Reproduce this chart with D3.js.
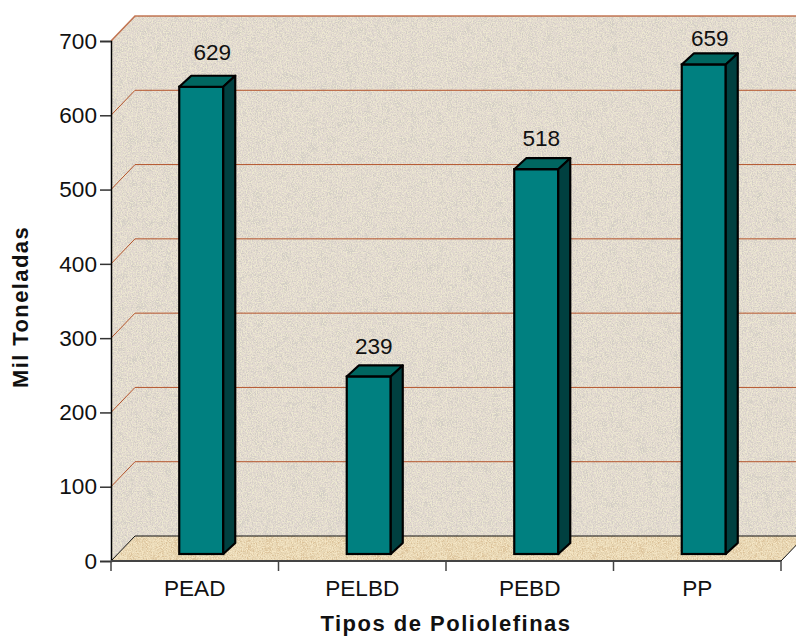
<!DOCTYPE html>
<html>
<head>
<meta charset="utf-8">
<script src="https://cdn.jsdelivr.net/npm/d3@7"></script>
<style>
  html, body { margin: 0; padding: 0; background: #fff; }
  svg { display: block; font-family: "Liberation Sans", Arial, sans-serif; }
  text { fill: #111; }
</style>
</head>
<body>
<div id="chart"></div>
<script>
var categories = ["PEAD", "PELBD", "PEBD", "PP"];
var values = [629, 239, 518, 659];
var yTicks = [0, 100, 200, 300, 400, 500, 600, 700];
var xTitle = "Tipos de Poliolefinas";
var yTitle = "Mil Toneladas";

var width = 796, height = 636;
var x0 = 111, x1 = 781, y0 = 561, y1 = 41;
var depthX = 24, depthY = 25;      // floor depth of the 3d box
var barW = 44, barDx = 12, barDy = 11, barFloor = 7;
var fontSize = "22.6px";

// the data labels are not placed evenly in the original
var labelNudge = [[11, -27], [5, -22], [5, -23], [6, -18]];

var svg = d3.select("#chart").append("svg")
    .attr("width", width)
    .attr("height", height);

var x = d3.scaleBand().domain(categories).range([x0, x1]);
var y = d3.scaleLinear().domain([0, 700]).range([y0, y1]);

var defs = svg.append("defs");

// speckled stone look for walls and floor
function stone(id, dark, light, blotch) {
  var f = defs.append("filter").attr("id", id)
      .attr("x", 0).attr("y", 0).attr("width", 1).attr("height", 1)
      .attr("color-interpolation-filters", "sRGB");
  f.append("feTurbulence").attr("type", "fractalNoise")
      .attr("baseFrequency", 0.8).attr("numOctaves", 2).attr("seed", 4).attr("result", "fine");
  f.append("feColorMatrix").attr("in", "fine").attr("type", "matrix")
      .attr("values", `0 0 0 0 ${light[0]}  0 0 0 0 ${light[1]}  0 0 0 0 ${light[2]}  5 0 0 0 -2.3`)
      .attr("result", "specks");
  f.append("feColorMatrix").attr("in", "fine").attr("type", "matrix")
      .attr("values", `0 0 0 0 ${dark[0]}  0 0 0 0 ${dark[1]}  0 0 0 0 ${dark[2]}  0 0 5 0 -2.4`)
      .attr("result", "grain");
  f.append("feTurbulence").attr("type", "fractalNoise")
      .attr("baseFrequency", 0.11).attr("numOctaves", 3).attr("seed", 11).attr("result", "coarse");
  f.append("feColorMatrix").attr("in", "coarse").attr("type", "matrix")
      .attr("values", `0 0 0 0 ${dark[0]}  0 0 0 0 ${dark[1]}  0 0 0 0 ${dark[2]}  0 ${blotch} 0 0 ${-blotch * 0.54}`)
      .attr("result", "blotch");
  var m = f.append("feMerge").attr("result", "tex");
  m.append("feMergeNode").attr("in", "SourceGraphic");
  m.append("feMergeNode").attr("in", "blotch");
  m.append("feMergeNode").attr("in", "grain");
  m.append("feMergeNode").attr("in", "specks");
  f.append("feComposite").attr("in", "tex").attr("in2", "SourceAlpha").attr("operator", "in");
}
stone("wallTex", [0.82, 0.80, 0.77], [0.93, 0.91, 0.82], 3);
stone("floorTex", [0.86, 0.76, 0.60], [0.96, 0.90, 0.77], 3);

var pts = a => a.map(p => p.join(",")).join(" ");

// walls
svg.append("polygon")
    .attr("points", pts([[x0, y(700)], [x0 + depthX, y(700) - depthY], [x1 + depthX, y(700) - depthY],
                         [x1 + depthX, y0 - depthY], [x0 + depthX, y0 - depthY], [x0, y0]]))
    .attr("fill", "#e2d8d0")
    .attr("filter", "url(#wallTex)");

// floor
svg.append("polygon")
    .attr("points", pts([[x0, y0], [x0 + depthX, y0 - depthY], [x1 + depthX, y0 - depthY], [x1, y0]]))
    .attr("fill", "#e8d8b6")
    .attr("filter", "url(#floorTex)");

// gridlines
svg.append("g").selectAll("path")
    .data(yTicks)
  .enter().append("path")
    .attr("d", d => `M${x0},${y(d)}L${x0 + depthX},${y(d) - depthY}H${x1 + depthX}`)
    .attr("fill", "none")
    .attr("stroke", d => d === 0 ? "#111" : "#b4552c")
    .attr("stroke-width", d => d === 700 ? 1.6 : 1)
    .attr("stroke-opacity", d => d === 700 ? 0.8 : 1);

svg.append("path")
    .attr("d", `M${x1},${y0}L${x1 + depthX},${y0 - depthY}`)
    .attr("stroke", "#111")
    .attr("fill", "none");

// bars
var bars = svg.append("g").selectAll("g")
    .data(values)
  .enter().append("g")
    .attr("transform", (d, i) => {
      var bx = x(categories[i]) + x.bandwidth() / 2 - barW / 2 + 6.5;
      return `translate(${bx},${y(d) - barFloor})`;
    });

bars.append("rect")
    .attr("width", barW)
    .attr("height", d => y0 - y(d))
    .attr("fill", "#008080")
    .attr("stroke", "#000")
    .attr("stroke-width", 2.2);

bars.append("polygon")
    .attr("points", pts([[0, 0], [barDx, -barDy], [barW + barDx, -barDy], [barW, 0]]))
    .attr("fill", "#006660")
    .attr("stroke", "#000")
    .attr("stroke-width", 2.2)
    .attr("stroke-linejoin", "round");

bars.append("polygon")
    .attr("points", d => pts([[barW, 0], [barW + barDx, -barDy], [barW + barDx, y0 - y(d) - barDy], [barW, y0 - y(d)]]))
    .attr("fill", "#004040")
    .attr("stroke", "#000")
    .attr("stroke-width", 2.2)
    .attr("stroke-linejoin", "round");

bars.append("text")
    .attr("x", (d, i) => barW / 2 + labelNudge[i][0])
    .attr("y", (d, i) => labelNudge[i][1])
    .attr("text-anchor", "middle")
    .style("font-size", fontSize)
    .text(d => d);

// axes
var axisY = svg.append("g")
    .attr("transform", `translate(${x0},0)`)
    .call(d3.axisLeft(y).tickValues(yTicks).tickSize(11).tickPadding(3).tickFormat(d3.format("d")));
axisY.select(".domain").attr("stroke", "#000").attr("stroke-width", 1.5);
axisY.selectAll("line").attr("stroke", "#333").attr("stroke-width", 1.5);
axisY.selectAll("text").style("font-size", fontSize).attr("fill", "#111");

var axisX = svg.append("g")
    .attr("transform", `translate(0,${y0})`)
    .call(d3.axisBottom(x).tickSize(0).tickPadding(19));
axisX.select(".domain").remove();
axisX.selectAll("text").style("font-size", fontSize).attr("fill", "#111");

svg.append("path")
    .attr("d", `M${x0},${y0}H${x1}`)
    .attr("stroke", "#444")
    .attr("stroke-width", 2);

svg.append("g").selectAll("line")
    .data(d3.range(categories.length + 1))
  .enter().append("line")
    .attr("x1", i => x0 + i * x.step())
    .attr("x2", i => x0 + i * x.step())
    .attr("y1", y0)
    .attr("y2", y0 + 10)
    .attr("stroke", "#444")
    .attr("stroke-width", 1.5);

// axis titles
svg.append("text")
    .attr("x", 446)
    .attr("y", 631)
    .attr("text-anchor", "middle")
    .style("font-size", "22px")
    .style("font-weight", "bold")
    .style("letter-spacing", "1.5px")
    .text(xTitle);

svg.append("text")
    .attr("transform", "translate(28,307) rotate(-90)")
    .attr("text-anchor", "middle")
    .style("font-size", "22px")
    .style("font-weight", "bold")
    .style("letter-spacing", "1.4px")
    .text(yTitle);
</script>
</body>
</html>
